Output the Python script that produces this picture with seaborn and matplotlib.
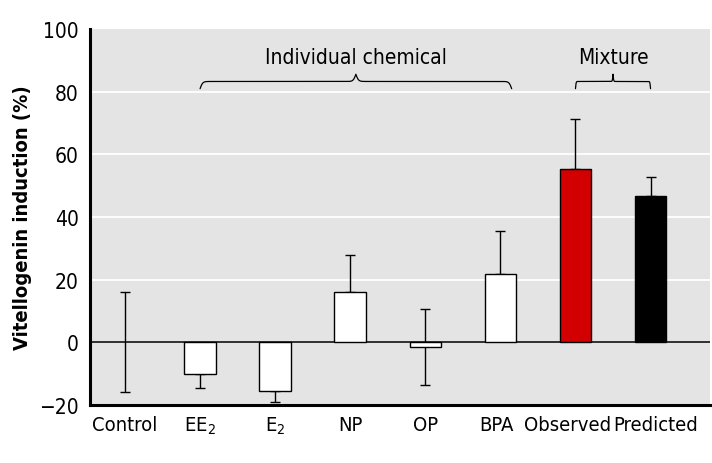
import matplotlib
matplotlib.use("Agg")
import matplotlib.pyplot as plt
from matplotlib.transforms import ScaledTranslation
import numpy as np
import pandas as pd
import seaborn as sns

categories = ["Control", "EE$_2$", "E$_2$", "NP", "OP", "BPA", "Observed", "Predicted"]
induction = [0.0, -10.2, -15.4, 16.0, -1.5, 21.8, 55.4, 46.8]
err_low = [15.8, 4.5, 3.8, 0.0, 12.2, 0.0, 0.0, 0.0]
err_high = [16.0, 0.0, 0.0, 12.0, 12.0, 13.7, 15.8, 6.1]
bar_colors = ["white", "white", "white", "white", "white", "white", "#d20000", "black"]

groups = ["Individual chemical", "Mixture"]
group_span = [(1, 5.15), (6, 7)]

df = pd.DataFrame({"category": categories, "induction": induction})

sns.set_style("white", {"axes.facecolor": "#e4e4e4", "text.color": "black",
                        "axes.labelcolor": "black", "xtick.color": "black",
                        "ytick.color": "black"})
plt.rcParams["font.family"] = ["DejaVu Sans"]
plt.rcParams["font.stretch"] = "condensed"
plt.rcParams["mathtext.fontset"] = "dejavusans"

fig = plt.figure(figsize=(7.12, 4.64), dpi=100)
ax = fig.add_axes([0.126, 0.125, 0.871, 0.810])

sns.barplot(
    data=df, x="category", y="induction", hue="category",
    palette=bar_colors, order=categories, hue_order=categories, saturation=1,
    width=0.42, edgecolor="black", linewidth=1.0,
    errorbar=None, legend=False, ax=ax, zorder=3,
)
# control has no bar drawn
ax.patches[0].set_visible(False)

ax.errorbar(
    np.arange(len(categories)), induction,
    yerr=[err_low, err_high], fmt="none", ecolor="black",
    elinewidth=1.0, capsize=3.3, capthick=1.0, zorder=2,
)

ax.set_ylim(-20, 100)
ax.set_xlim(-0.47, 7.79)
ax.set_yticks(range(-20, 101, 20))
ax.set_yticklabels(["\u221220"] + [str(v) for v in range(0, 101, 20)])
for v in range(20, 100, 20):
    ax.axhline(v, color="white", lw=1.3, zorder=1)
ax.axhline(0, color="black", lw=1.1, zorder=2.5)

for s in ["top", "right"]:
    ax.spines[s].set_visible(False)
for s in ["left", "bottom"]:
    ax.spines[s].set_linewidth(2.2)
    ax.spines[s].set_color("black")

ax.tick_params(axis="y", length=0, labelsize=15, colors="black", pad=8)
ax.tick_params(axis="x", length=0, labelsize=14.5, colors="black", pad=7)
ax.set_xlabel("")
ax.set_ylabel("Vitellogenin induction (%)", fontsize=14.5, fontweight="bold", labelpad=5)

# nudge the long labels apart so they don't collide
xlabels = ax.get_xticklabels()
for lab, dx in zip(xlabels[-3:], [-4, -8, 5]):
    lab.set_transform(lab.get_transform() + ScaledTranslation(dx / 100, 0, fig.dpi_scale_trans))


def brace(ax, x0, x1, y, height):
    xs = np.linspace(x0, x1, 401)
    half = xs[:201]
    beta = 240.0 / (x1 - x0)
    yh = 1 / (1 + np.exp(-beta * (half - half[0]))) + 1 / (1 + np.exp(-beta * (half - half[-1])))
    ys = np.concatenate((yh, yh[-2::-1]))
    ax.plot(xs, y + (ys - 0.5) * height, color="black", lw=0.9, zorder=4)


for name, (a, b) in zip(groups, group_span):
    brace(ax, a, b, 81.0, 4.6)
    ax.text((a + b) / 2, 88, name, ha="center", va="bottom", fontsize=15)

fig.savefig("out.png", dpi=100)
